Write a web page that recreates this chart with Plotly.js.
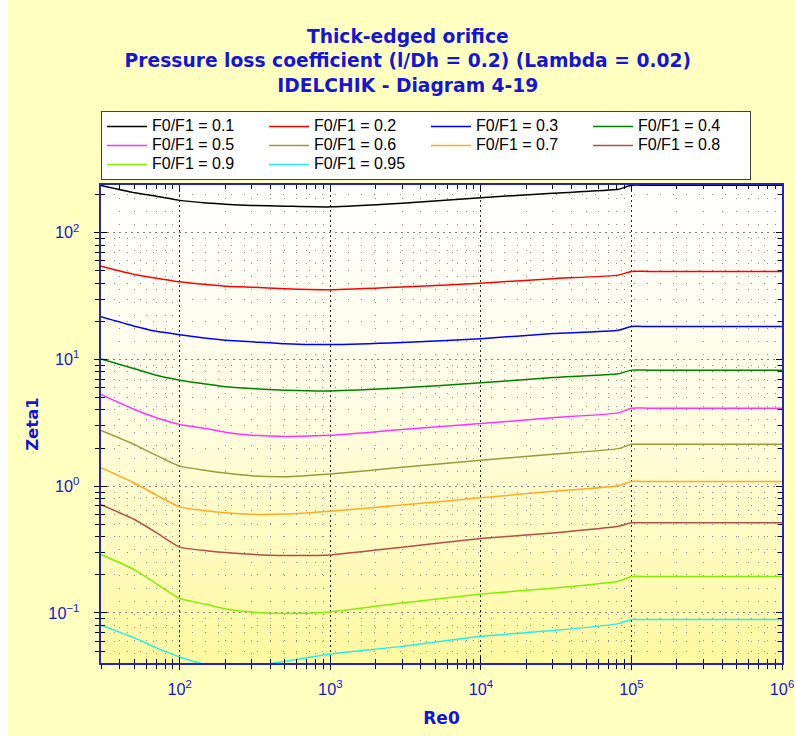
<!DOCTYPE html>
<html>
<head>
<meta charset="utf-8">
<script src="https://cdn.plot.ly/plotly-3.0.1.min.js"></script>
<style>
  html, body { margin: 0; padding: 0; background: #ffffff; }
  #chart { position: absolute; left: 8px; top: 0; width: 787px; height: 736px; }
</style>
</head>
<body>
<div id="chart"></div>
<script>
// Reynolds numbers (x)
const re0 = [30, 50, 70, 100, 150, 200, 300, 500, 1000, 3000, 10000, 30000, 82000, 100000, 130000, 1000000];

// Series names
const seriesNames = ["F0/F1 = 0.1", "F0/F1 = 0.2", "F0/F1 = 0.3", "F0/F1 = 0.4", "F0/F1 = 0.5",
                     "F0/F1 = 0.6", "F0/F1 = 0.7", "F0/F1 = 0.8", "F0/F1 = 0.9", "F0/F1 = 0.95"];

// Zeta1 values
const zeta_01  = [236, 207, 194, 180, 172, 168, 164, 162, 160, 171, 189, 205, 220, 237, 237, 237];
const zeta_02  = [54.5, 46.9, 43.8, 41, 39, 37.9, 37.2, 36.1, 35.5, 37.3, 40, 43.4, 46.3, 49.5, 49.5, 49.5];
const zeta_03  = [21.7, 18.3, 16.7, 15.7, 14.7, 14.2, 13.8, 13.3, 13.1, 13.6, 14.6, 16.0, 17.0, 18.2, 18.2, 18.2];
const zeta_04  = [10.1, 8.45, 7.5, 6.87, 6.4, 6.1, 5.9, 5.73, 5.65, 5.97, 6.55, 7.2, 7.71, 8.24, 8.24, 8.24];
const zeta_05  = [5.3, 4.03, 3.47, 3.07, 2.85, 2.67, 2.53, 2.47, 2.52, 2.8, 3.12, 3.47, 3.79, 4.13, 4.13, 4.13];
const zeta_06  = [2.75, 2.13, 1.75, 1.44, 1.33, 1.27, 1.21, 1.19, 1.25, 1.41, 1.60, 1.79, 1.98, 2.14, 2.14, 2.14];
const zeta_07  = [1.40, 1.06, 0.85, 0.687, 0.64, 0.617, 0.60, 0.603, 0.635, 0.71, 0.81, 0.912, 1.01, 1.09, 1.09, 1.09];
const zeta_08  = [0.716, 0.546, 0.43, 0.331, 0.31, 0.30, 0.29, 0.284, 0.287, 0.33, 0.386, 0.428, 0.483, 0.514, 0.514, 0.514];
const zeta_09  = [0.289, 0.22, 0.17, 0.130, 0.117, 0.108, 0.1016, 0.099, 0.102, 0.12, 0.141, 0.157, 0.178, 0.194, 0.194, 0.194];
const zeta_095 = [0.080, 0.0636, 0.053, 0.045, 0.0392, 0.0375, 0.0378, 0.0415, 0.0475, 0.0545, 0.0655, 0.0726, 0.0824, 0.0887, 0.0887, 0.0887];

const seriesValues = [zeta_01, zeta_02, zeta_03, zeta_04, zeta_05, zeta_06, zeta_07, zeta_08, zeta_09, zeta_095];
const seriesColors = ["#000000", "#ff0000", "#0000ff", "#008000", "#ff33ff",
                      "#9a9a3a", "#ffaa22", "#b0504a", "#80f000", "#22eeee"];

// Tick labels
const xTickAlias = {"100": "10<sup>2</sup>", "1000": "10<sup>3</sup>"};
const yTickAlias = {"1": "10<sup>0</sup>", "10": "10<sup>1</sup>"};

const traces = seriesValues.map((vals, i) => ({
  type: "scatter", mode: "lines", x: re0, y: vals,
  name: "<span style='font-size:16px'>" + seriesNames[i] + "</span>",
  line: {color: seriesColors[i], width: 1.5, shape: "spline", smoothing: 0.5}, hoverinfo: "x+y"
}));
traces.push({type: "scatter", mode: "lines", x: [], y: [], xaxis: "x2", yaxis: "y2",
             showlegend: false, hoverinfo: "skip"});

const xRange = [Math.log10(30), 6];
const yRange = [Math.log10(0.0403), Math.log10(238)];
const blue = "#1515d8";
const axisLine = "#2323c8";
const tickFont = {family: "Liberation Sans, Arial, sans-serif", size: 13, color: blue};

const gradSvg = "data:image/svg+xml;utf8," + encodeURIComponent(
  "<svg xmlns='http://www.w3.org/2000/svg' width='100' height='100' preserveAspectRatio='none'>" +
  "<defs><linearGradient id='g' x1='0' y1='0' x2='0' y2='1'>" +
  "<stop offset='0' stop-color='#ffffff'/><stop offset='0.45' stop-color='#fffde6'/>" +
  "<stop offset='1' stop-color='#fff9a0'/></linearGradient></defs>" +
  "<rect width='100' height='100' fill='url(#g)'/></svg>");

const layout = {
  width: 787, height: 736,
  paper_bgcolor: "#ffffc0",
  plot_bgcolor: "#ffffe0",
  margin: {l: 93, r: 13, t: 185, b: 73},
  title: {
    text: "Thick-edged orifice<br>Pressure loss coefficient (l/Dh = 0.2) (Lambda = 0.02)<br>IDELCHIK - Diagram 4-19",
    font: {family: "DejaVu Sans, sans-serif", size: 18.7, color: blue, weight: "bold"},
    x: 0.508, xref: "container", xanchor: "center",
    y: 1 - 43 / 736, yref: "container", yanchor: "top"
  },
  showlegend: true,
  legend: {
    orientation: "h", x: 0, xanchor: "left", y: 1 + 74 / 478, yanchor: "top",
    bgcolor: "#ffffff", bordercolor: "#404040", borderwidth: 1,
    font: {family: "Liberation Sans, Arial, sans-serif", size: 12.3, color: "#000"},
    entrywidth: 107, entrywidthmode: "pixels", itemwidth: 40, traceorder: "normal"
  },
  xaxis: {
    type: "log", range: xRange, dtick: 1, exponentformat: "power", labelalias: xTickAlias,
    showline: true, linecolor: axisLine, linewidth: 2, mirror: true,
    ticks: "outside", ticklen: 5, tickcolor: "#000", tickwidth: 1,
    tickfont: tickFont, ticklabelstandoff: 6,
    showgrid: true, gridcolor: "rgba(0,0,0,0.85)", griddash: "2px,3px", gridwidth: 1,
    zeroline: false,
    minor: {dtick: "D1", ticks: "outside", ticklen: 4, tickcolor: "#000",
            showgrid: true, gridcolor: "#8a8a8a", griddash: "1px,12px", gridwidth: 1},
    title: {text: "Re0", font: {family: "DejaVu Sans, sans-serif", size: 17, color: blue, weight: "bold"}, standoff: 15}
  },
  yaxis: {
    type: "log", range: yRange, dtick: 1, exponentformat: "power", labelalias: yTickAlias,
    showline: true, linecolor: axisLine, linewidth: 2, mirror: true,
    ticks: "outside", ticklen: 5, tickcolor: "#000", tickwidth: 1,
    tickfont: tickFont, ticklabelstandoff: 12,
    showgrid: true, gridcolor: "#808080", griddash: "2px,4px", gridwidth: 1,
    zeroline: false,
    minor: {dtick: "D1", ticks: "outside", ticklen: 4, tickcolor: "#000",
            showgrid: true, gridcolor: "#8a8a8a", griddash: "1px,12px", gridwidth: 1},
    title: {text: "Zeta1", font: {family: "DejaVu Sans, sans-serif", size: 16.5, color: blue, weight: "bold"}, standoff: 6}
  },
  xaxis2: {
    type: "log", range: xRange, dtick: 1, overlaying: "x", side: "bottom", anchor: "y2",
    showline: false, showgrid: false, zeroline: false, showticklabels: false,
    ticks: "inside", ticklen: 6, tickcolor: "#000", mirror: "ticks",
    minor: {dtick: "D1", ticks: "inside", ticklen: 4, tickcolor: "#000", showgrid: false}
  },
  yaxis2: {
    type: "log", range: yRange, dtick: 1, overlaying: "y", side: "left", anchor: "x2",
    showline: false, showgrid: false, zeroline: false, showticklabels: false,
    ticks: "inside", ticklen: 6, tickcolor: "#000", mirror: "ticks",
    minor: {dtick: "D1", ticks: "inside", ticklen: 4, tickcolor: "#000", showgrid: false}
  },
  images: [{
    source: gradSvg, xref: "paper", yref: "paper", x: 0, y: 1, sizex: 1, sizey: 1,
    sizing: "stretch", xanchor: "left", yanchor: "top", layer: "below"
  }]
};

Plotly.newPlot("chart", traces, layout, {displayModeBar: false, staticPlot: true});
</script>
</body>
</html>
